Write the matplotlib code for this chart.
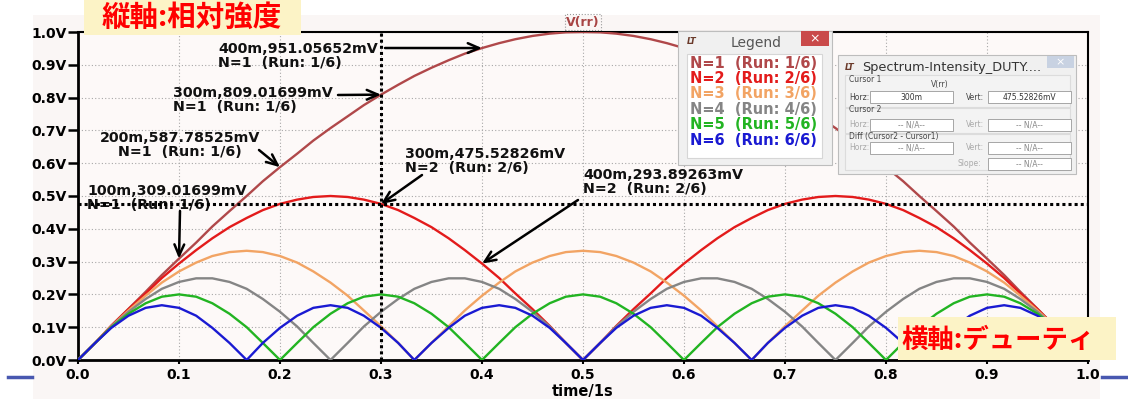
import matplotlib.pyplot as plt
from matplotlib.patches import Rectangle

# duty (x) sample positions and relative intensity per harmonic N
duty = [0.000, 0.017, 0.033, 0.050, 0.067, 0.083, 0.100, 0.117, 0.133, 0.150,
        0.167, 0.183, 0.200, 0.217, 0.233, 0.250, 0.267, 0.283, 0.300, 0.317,
        0.333, 0.350, 0.367, 0.383, 0.400, 0.417, 0.433, 0.450, 0.467, 0.483,
        0.500, 0.517, 0.533, 0.550, 0.567, 0.583, 0.600, 0.617, 0.633, 0.650,
        0.667, 0.683, 0.700, 0.717, 0.733, 0.750, 0.767, 0.783, 0.800, 0.817,
        0.833, 0.850, 0.867, 0.883, 0.900, 0.917, 0.933, 0.950, 0.960]

n1 = [0.000, 0.052, 0.105, 0.156, 0.208, 0.259, 0.309, 0.358, 0.407, 0.454,
      0.500, 0.545, 0.588, 0.629, 0.669, 0.707, 0.743, 0.777, 0.809, 0.839,
      0.866, 0.891, 0.914, 0.934, 0.951, 0.966, 0.978, 0.988, 0.995, 0.999,
      1.000, 0.999, 0.995, 0.988, 0.978, 0.966, 0.951, 0.934, 0.914, 0.891,
      0.866, 0.839, 0.809, 0.777, 0.743, 0.707, 0.669, 0.629, 0.588, 0.545,
      0.500, 0.454, 0.407, 0.358, 0.309, 0.259, 0.208, 0.156, 0.125]
n2 = [0.000, 0.052, 0.104, 0.155, 0.203, 0.250, 0.294, 0.335, 0.371, 0.405,
      0.433, 0.457, 0.476, 0.489, 0.497, 0.500, 0.497, 0.489, 0.476, 0.457,
      0.433, 0.405, 0.371, 0.335, 0.294, 0.250, 0.203, 0.155, 0.104, 0.052,
      0.000, 0.052, 0.104, 0.155, 0.203, 0.250, 0.294, 0.335, 0.371, 0.405,
      0.433, 0.457, 0.476, 0.489, 0.497, 0.500, 0.497, 0.489, 0.476, 0.457,
      0.433, 0.405, 0.371, 0.335, 0.294, 0.250, 0.203, 0.155, 0.124]
n3 = [0.000, 0.052, 0.103, 0.151, 0.196, 0.236, 0.270, 0.297, 0.317, 0.329,
      0.333, 0.329, 0.317, 0.297, 0.270, 0.236, 0.196, 0.151, 0.103, 0.052,
      0.000, 0.052, 0.103, 0.151, 0.196, 0.236, 0.270, 0.297, 0.317, 0.329,
      0.333, 0.329, 0.317, 0.297, 0.270, 0.236, 0.196, 0.151, 0.103, 0.052,
      0.000, 0.052, 0.103, 0.151, 0.196, 0.236, 0.270, 0.297, 0.317, 0.329,
      0.333, 0.329, 0.317, 0.297, 0.270, 0.236, 0.196, 0.151, 0.123]
n4 = [0.000, 0.052, 0.102, 0.147, 0.186, 0.217, 0.238, 0.249, 0.249, 0.238,
      0.217, 0.186, 0.147, 0.102, 0.052, 0.000, 0.052, 0.102, 0.147, 0.186,
      0.217, 0.238, 0.249, 0.249, 0.238, 0.217, 0.186, 0.147, 0.102, 0.052,
      0.000, 0.052, 0.102, 0.147, 0.186, 0.217, 0.238, 0.249, 0.249, 0.238,
      0.217, 0.186, 0.147, 0.102, 0.052, 0.000, 0.052, 0.102, 0.147, 0.186,
      0.217, 0.238, 0.249, 0.249, 0.238, 0.217, 0.186, 0.147, 0.120]
n5 = [0.000, 0.052, 0.100, 0.141, 0.173, 0.193, 0.200, 0.193, 0.173, 0.141,
      0.100, 0.052, 0.000, 0.052, 0.100, 0.141, 0.173, 0.193, 0.200, 0.193,
      0.173, 0.141, 0.100, 0.052, 0.000, 0.052, 0.100, 0.141, 0.173, 0.193,
      0.200, 0.193, 0.173, 0.141, 0.100, 0.052, 0.000, 0.052, 0.100, 0.141,
      0.173, 0.193, 0.200, 0.193, 0.173, 0.141, 0.100, 0.052, 0.000, 0.052,
      0.100, 0.141, 0.173, 0.193, 0.200, 0.193, 0.173, 0.141, 0.118]
n6 = [0.000, 0.052, 0.098, 0.135, 0.159, 0.167, 0.159, 0.135, 0.098, 0.052,
      0.000, 0.052, 0.098, 0.135, 0.159, 0.167, 0.159, 0.135, 0.098, 0.052,
      0.000, 0.052, 0.098, 0.135, 0.159, 0.167, 0.159, 0.135, 0.098, 0.052,
      0.000, 0.052, 0.098, 0.135, 0.159, 0.167, 0.159, 0.135, 0.098, 0.052,
      0.000, 0.052, 0.098, 0.135, 0.159, 0.167, 0.159, 0.135, 0.098, 0.052,
      0.000, 0.052, 0.098, 0.135, 0.159, 0.167, 0.159, 0.135, 0.114]

series = [n1, n2, n3, n4, n5, n6]
names = ["N=1  (Run: 1/6)", "N=2  (Run: 2/6)", "N=3  (Run: 3/6)",
         "N=4  (Run: 4/6)", "N=5  (Run: 5/6)", "N=6  (Run: 6/6)"]
colors = ["#b0484a", "#e31b1b", "#f2a464", "#858585", "#22b422", "#1a1ad2"]

# cursor readouts shown on the chart
ann_x = [0.4, 0.3, 0.2, 0.1, 0.3, 0.4]
ann_y = [0.95105652, 0.80901699, 0.58778525, 0.30901699, 0.47552826, 0.29389263]
ann_run = [1, 1, 1, 1, 2, 2]
cursor_x = 0.3
cursor_y = 0.47552826

W, H = 1128, 399


def fx(px):
    return px / W


def fy(py):
    return 1 - py / H


fig = plt.figure(figsize=(W / 100, H / 100), dpi=100)
fig.patch.set_facecolor("white")
fig.add_artist(Rectangle((fx(33), 0), fx(1100) - fx(33), fy(15), transform=fig.transFigure,
                         facecolor="#faf6f5", edgecolor="none", zorder=-1))

ax = fig.add_axes([fx(78), fy(360), fx(1088) - fx(78), fy(32) - fy(360)])
ax.set_facecolor("#fdf9f8")

for vals, c in zip(series, colors):
    ax.plot(duty, vals, color=c, lw=1.7, zorder=3, solid_joinstyle="round")

ax.set_xlim(0, 1)
ax.set_ylim(0, 1)
ticks = [i / 10 for i in range(11)]
ax.set_xticks(ticks)
ax.set_yticks(ticks)
ax.set_xticklabels([f"{t:.1f}" for t in ticks], fontweight="bold", fontsize=10)
ax.set_yticklabels([f"{t:.1f}V" for t in ticks], fontweight="bold", fontsize=10)
ax.tick_params(axis="y", length=7, width=1.8, pad=1)
ax.tick_params(axis="x", length=3, width=1.5, pad=3)
ax.grid(True, color="#a8a8a8", ls=(0, (1, 2)), lw=0.8)
for s in ax.spines.values():
    s.set_color("black")
ax.spines["left"].set_linewidth(2)
ax.spines["bottom"].set_linewidth(2)
ax.spines["top"].set_linewidth(1.5)
ax.spines["right"].set_linewidth(1.5)
ax.set_xlabel("time/1s", fontweight="bold", fontsize=10.5, labelpad=1)

ax.text(0.5, 1.01, "V(rr)", transform=ax.transAxes, ha="center", va="bottom",
        color="#a84444", fontweight="bold", fontsize=9,
        bbox=dict(boxstyle="square,pad=0.1", fc="none", ec="#999999", ls=":", lw=0.8))

# cursor crosshair
ax.axvline(cursor_x, color="black", ls=(0, (1, 1)), lw=2.2, zorder=6)
ax.axhline(cursor_y, color="black", ls=(0, (1, 1)), lw=2.2, zorder=6)

# annotation text positions (pixels) and arrow tails
text_pos = [(218, 42), (173, 86), (180, 131), (87, 184), (405, 147), (583, 168)]
tails = [(385, 48), (338, 95), (259, 150), (180, 211), (422, 175), (578, 200)]
for i in range(len(ann_x)):
    label = f"{round(ann_x[i] * 1000)}m,{ann_y[i] * 1000:.5f}mV\nN={ann_run[i]}  (Run: {ann_run[i]}/6)"
    tx, ty = text_pos[i]
    ha = "center" if i == 2 else "left"
    ax.text(fx(tx), fy(ty), label, transform=fig.transFigure, ha=ha, va="top",
            fontsize=10.3, fontweight="bold", color="#111111", linespacing=1.0,
            multialignment="center" if i == 2 else "left", zorder=5)
    ax.annotate("", xy=(ann_x[i], ann_y[i]), xycoords="data",
                xytext=(fx(tails[i][0]), fy(tails[i][1])), textcoords="figure fraction",
                arrowprops=dict(arrowstyle="->,head_length=0.8,head_width=0.35", lw=1.8,
                                color="black", shrinkA=0, shrinkB=0),
                annotation_clip=False, zorder=5)


def box(x0, y0, x1, y1, fc, ec="none", lw=0.8, z=10):
    fig.add_artist(Rectangle((fx(x0), fy(y1)), fx(x1) - fx(x0), fy(y0) - fy(y1),
                             transform=fig.transFigure, facecolor=fc, edgecolor=ec,
                             lw=lw, zorder=z))


# Legend window
box(678, 31, 832, 165, "#f0f0f0", "#bdbdbd")
box(687, 54, 822, 158, "white", "#d6d6d6", z=10.5)
box(801, 31, 829, 46, "#c94a4a", z=10.5)
fig.text(fx(815), fy(38.5), "×", ha="center", va="center", color="white", fontsize=9, zorder=11)
fig.text(fx(756), fy(43), "Legend", ha="center", va="center", color="#555555", fontsize=10, zorder=11)
fig.text(fx(692), fy(42), "LT", ha="center", va="center", color="#6a3a2a", fontsize=6,
         fontweight="bold", fontstyle="italic", zorder=11)
for i, (nm, c) in enumerate(zip(names, colors)):
    fig.text(fx(690), fy(63 + 15.5 * i), nm, ha="left", va="center", color=c,
             fontsize=10.5, fontweight="bold", zorder=11)

# Cursor readout window
box(838, 55, 1076, 174, "#f0f0f0", "#bdbdbd")
box(1047, 56, 1074, 68, "#c8d2e2", z=10.5)
fig.text(fx(1060), fy(62), "×", ha="center", va="center", color="white", fontsize=8, zorder=11)
fig.text(fx(850), fy(67), "LT", ha="center", va="center", color="#6a3a2a", fontsize=6,
         fontweight="bold", fontstyle="italic", zorder=11)
fig.text(fx(862), fy(68), "Spectrum-Intensity_DUTY....", ha="left", va="center",
         color="#333333", fontsize=9.3, zorder=11)
box(845, 75, 1070, 107, "#f3f3f3", "#dcdcdc", z=10.3)
box(845, 108, 1070, 133, "#f3f3f3", "#dcdcdc", z=10.3)
box(845, 134, 1070, 170, "#f3f3f3", "#dcdcdc", z=10.3)
small = dict(fontsize=5.5, va="center", zorder=11)
fig.text(fx(849), fy(79), "Cursor 1", ha="left", color="#444444", **small)
fig.text(fx(940), fy(85), "V(rr)", ha="center", color="#444444", **small)
fig.text(fx(849), fy(110), "Cursor 2", ha="left", color="#444444", **small)
fig.text(fx(849), fy(137), "Diff (Cursor2 - Cursor1)", ha="left", color="#444444", **small)
rows = [(97, "300m", f"{cursor_y * 1000:.5f}mV", "#444444"),
        (125, "-- N/A--", "-- N/A--", "#aaaaaa"),
        (148, "-- N/A--", "-- N/A--", "#aaaaaa")]
for ry, hv, vv, tc in rows:
    fig.text(fx(849), fy(ry), "Horz:", ha="left", color=tc, **small)
    fig.text(fx(966), fy(ry), "Vert:", ha="left", color=tc, **small)
    box(870, ry - 6, 953, ry + 6, "white", "#999999", lw=0.6, z=10.6)
    box(988, ry - 6, 1071, ry + 6, "white", "#999999", lw=0.6, z=10.6)
    fig.text(fx(911), fy(ry), hv, ha="center", color="#333333" if hv == "300m" else "#888888", **small)
    fig.text(fx(1029), fy(ry), vv, ha="center", color="#333333" if hv == "300m" else "#888888", **small)
fig.text(fx(958), fy(164), "Slope:", ha="left", color="#aaaaaa", **small)
box(988, 158, 1071, 170, "white", "#999999", lw=0.6, z=10.6)
fig.text(fx(1029), fy(164), "-- N/A--", ha="center", color="#888888", **small)

# Japanese axis captions
jp = ["Noto Sans CJK JP", "DejaVu Sans"]
box(84, 0, 301, 35, "#fcf3c6")
fig.text(fx(192), fy(18), "縦軸:相対強度", ha="center", va="center", color="#ff0000",
         fontsize=20.5, fontweight="bold", family=jp, zorder=11)
box(898, 317, 1116, 360, "#fcf3c6")
fig.text(fx(998), fy(340), "横軸:デューティ", ha="center", va="center", color="#ff0000",
         fontsize=19, fontweight="bold", family=jp, zorder=11)

# short blue marks beside the x axis
fig.add_artist(plt.Line2D([fx(8), fx(32)], [fy(377), fy(377)], transform=fig.transFigure,
                          color="#4858b0", lw=2.5))
fig.add_artist(plt.Line2D([fx(1102), fx(1128)], [fy(377), fy(377)], transform=fig.transFigure,
                          color="#4858b0", lw=2.5))

fig.savefig("out.png", dpi=100)
